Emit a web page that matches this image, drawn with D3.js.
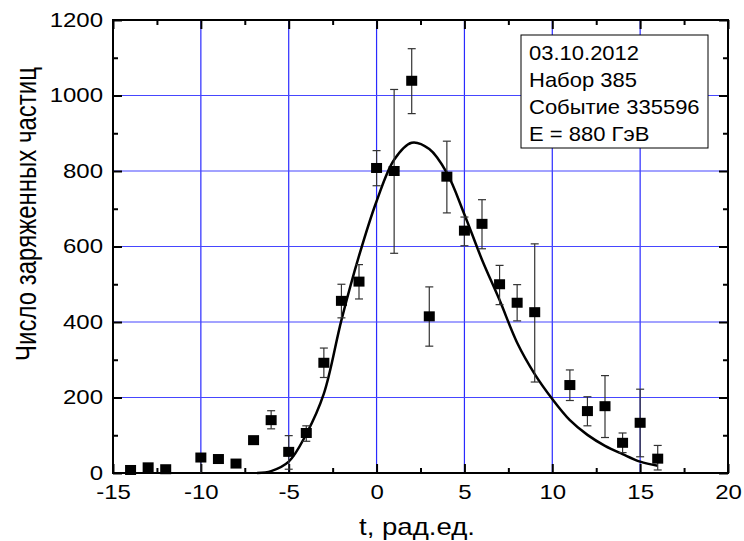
<!DOCTYPE html>
<html>
<head>
<meta charset="utf-8">
<script src="https://cdn.jsdelivr.net/npm/d3@7"></script>
<style>
  body { margin: 0; background: #fff; }
  text { font-family: "Liberation Sans", Arial, sans-serif; fill: #000; }
</style>
</head>
<body>
<svg id="canvas" width="744" height="541"></svg>
<script>
// точки измерений
const tVals  = [-14, -13, -12, -10, -9, -8, -7, -6, -5, -4, -3, -2, -1, 0, 1, 2, 3, 4, 5, 6, 7, 8, 9, 11, 12, 13, 14, 15, 16]
const nVals  = [8, 15, 10, 41, 37, 25, 87, 140, 56, 106, 292, 456, 507, 808, 800, 1039, 415, 785, 642, 660, 500, 451, 426, 233, 164, 177, 80, 133, 38]
const errLo  = [8, 15, 10, 0, 37, 25, 87, 117, 10, 84, 253, 411, 461, 761, 582, 952, 336, 689, 602, 594, 446, 403, 241, 192, 125, 94, 54, 43, 8]
const errHi  = [8, 15, 10, 41, 37, 25, 87, 165, 99, 125, 331, 500, 552, 854, 1016, 1124, 493, 879, 678, 724, 550, 499, 607, 273, 202, 258, 106, 222, 73]

// аппроксимирующая кривая
const fitT = [-6.8, -6, -5, -4, -3, -2, -1, 0, 1, 2, 3, 4, 5, 6, 7, 8, 9, 10, 11, 12, 13, 14, 15, 16]
const fitN = [0, 5, 30, 103, 210, 405, 575, 720, 830, 875, 858, 795, 685, 565, 458, 345, 262, 196, 140, 101, 72, 50, 30, 19]

const xTicks = [-15, -10, -5, 0, 5, 10, 15, 20]
const yTicks = [0, 200, 400, 600, 800, 1000, 1200]
const xMinor = [-12.5, -7.5, -2.5, 2.5, 7.5, 12.5, 17.5]
const yMinor = [100, 300, 500, 700, 900, 1100]

const infoLines = ["03.10.2012", "Набор 385", "Событие 335596", "E = 880 ГэВ"]

const pLeft = 113, pRight = 728, pTop = 20, pBottom = 473
const sx = 1.2   // картинка растянута по горизонтали

const canvas = d3.select("#canvas")

const x = d3.scaleLinear().domain([-15, 20]).range([pLeft, pRight])
const y = d3.scaleLinear().domain([0, 1200]).range([pBottom, pTop])

// подписи тиков: обычный дефис, без разделителя тысяч
const fmt = d => String(d)

// сетка
const grid = canvas.append("g").attr("stroke", "#2a2aff").attr("stroke-width", 1.2)
grid.selectAll(".gv").data(xTicks.filter(d => d > -15 && d < 20)).enter().append("line")
    .attr("x1", d => x(d)).attr("x2", d => x(d)).attr("y1", pTop).attr("y2", pBottom)
grid.selectAll(".gh").data(yTicks.filter(d => d > 0 && d < 1200)).enter().append("line")
    .attr("y1", d => y(d)).attr("y2", d => y(d)).attr("x1", pLeft).attr("x2", pRight)
    .attr("stroke", "#4646ff")

// оси
const styleAxis = g => {
    g.select(".domain").remove()
    g.selectAll("line").attr("stroke", "#000").attr("stroke-width", 2)
}

canvas.append("g").attr("transform", "translate(0," + pBottom + ")")
    .call(d3.axisBottom(x).tickValues(xTicks).tickFormat(fmt).tickSizeInner(-9).tickSizeOuter(0).tickPadding(12))
    .call(styleAxis)
    .call(g => g.selectAll("text").attr("font-size", 20).attr("transform", "scale(" + sx + ",1)"))
canvas.append("g").attr("transform", "translate(0," + pBottom + ")")
    .call(d3.axisBottom(x).tickValues(xMinor).tickSize(-5).tickFormat(""))
    .call(styleAxis)
canvas.append("g").attr("transform", "translate(0," + pTop + ")")
    .call(d3.axisTop(x).tickValues(xTicks).tickSize(-9).tickFormat(""))
    .call(styleAxis)
canvas.append("g").attr("transform", "translate(0," + pTop + ")")
    .call(d3.axisTop(x).tickValues(xMinor).tickSize(-5).tickFormat(""))
    .call(styleAxis)

canvas.append("g").attr("transform", "translate(" + pLeft + ",0)")
    .call(d3.axisLeft(y).tickValues(yTicks).tickFormat(fmt).tickSizeInner(-9).tickSizeOuter(0).tickPadding(10))
    .call(styleAxis)
    .call(g => g.selectAll("text").attr("font-size", 20)
        .attr("x", -10 / sx).attr("transform", "scale(" + sx + ",1)"))
canvas.append("g").attr("transform", "translate(" + pLeft + ",0)")
    .call(d3.axisLeft(y).tickValues(yMinor).tickSize(-5).tickFormat(""))
    .call(styleAxis)
canvas.append("g").attr("transform", "translate(" + pRight + ",0)")
    .call(d3.axisRight(y).tickValues(yTicks).tickSize(-9).tickFormat(""))
    .call(styleAxis)
canvas.append("g").attr("transform", "translate(" + pRight + ",0)")
    .call(d3.axisRight(y).tickValues(yMinor).tickSize(-5).tickFormat(""))
    .call(styleAxis)

// рамка
canvas.append("rect")
    .attr("x", pLeft).attr("y", pTop).attr("width", pRight - pLeft).attr("height", pBottom - pTop)
    .attr("fill", "none").attr("stroke", "#000").attr("stroke-width", 2)

// кривая
const line = d3.line().x(d => x(d)).y((d, i) => y(fitN[i])).curve(d3.curveCatmullRom)
canvas.append("path")
    .attr("d", line(fitT))
    .attr("fill", "none").attr("stroke", "#000").attr("stroke-width", 2.5)

// погрешности
const eb = canvas.append("g").attr("stroke", "#333").attr("stroke-width", 1.2)
tVals.forEach((t, i) => {
    if (errHi[i] - errLo[i] < 1) return
    const cx = x(t)
    eb.append("line").attr("x1", cx).attr("x2", cx).attr("y1", y(errLo[i])).attr("y2", y(errHi[i]))
    if (errLo[i] > 0) eb.append("line").attr("x1", cx - 4).attr("x2", cx + 4).attr("y1", y(errLo[i])).attr("y2", y(errLo[i]))
    eb.append("line").attr("x1", cx - 4).attr("x2", cx + 4).attr("y1", y(errHi[i])).attr("y2", y(errHi[i]))
})

// точки
canvas.append("g").selectAll("rect").data(tVals).enter().append("rect")
    .attr("x", d => x(d) - 5.5)
    .attr("y", (d, i) => y(nVals[i]) - 5)
    .attr("width", 11).attr("height", 10)
    .attr("fill", "#000")

// подписи осей
canvas.append("text")
    .attr("transform", "translate(417,535) scale(" + sx + ",1)")
    .attr("text-anchor", "middle").attr("font-size", 23)
    .text("t, рад.ед.")
canvas.append("text")
    .attr("transform", "translate(36,214) scale(" + sx + ",1) rotate(-90)")
    .attr("text-anchor", "middle").attr("font-size", 24)
    .text("Число заряженных частиц")

// легенда
canvas.append("rect")
    .attr("x", 521).attr("y", 35).attr("width", 187).attr("height", 113)
    .attr("fill", "#fff").attr("stroke", "#000").attr("stroke-width", 1)
canvas.append("g").selectAll("text").data(infoLines).enter().append("text")
    .attr("transform", (d, i) => "translate(529," + (60 + 27 * i) + ") scale(1.1,1)")
    .attr("font-size", 20)
    .text(d => d)
</script>
</body>
</html>
